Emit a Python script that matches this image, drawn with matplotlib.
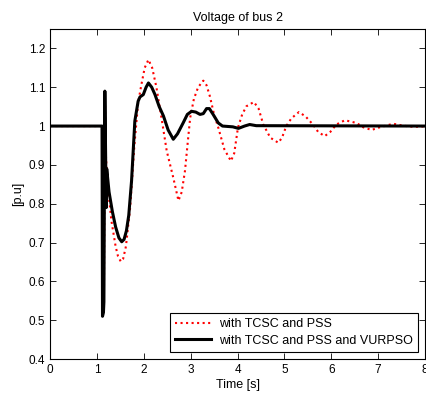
import numpy as np
import matplotlib
matplotlib.use('Agg')
import matplotlib.pyplot as plt
from matplotlib.ticker import FuncFormatter

# Values
t_pss = [0, 1.11, 1.12, 1.15, 1.17, 1.19, 1.22, 1.31, 1.40, 1.45, 1.51, 1.56, 1.62, 1.71, 1.80,
         1.88, 1.95, 2.02, 2.10, 2.18, 2.27, 2.38, 2.49, 2.63, 2.74, 2.81, 2.88,
         2.94, 2.99, 3.07, 3.16, 3.27, 3.34, 3.41, 3.50, 3.59, 3.72, 3.86, 3.93,
         4.01, 4.10, 4.19, 4.35, 4.45, 4.55, 4.70, 4.87, 4.95, 5.04, 5.15, 5.31,
         5.45, 5.61, 5.72, 5.86, 5.98, 6.11, 6.29, 6.54, 6.68, 6.86, 7.04, 7.32,
         7.53, 7.75, 8.0]
v_pss = [1.0, 1.0, 0.52, 0.55, 1.09, 0.93, 0.86, 0.756, 0.69, 0.665, 0.651, 0.658, 0.69, 0.79, 0.95,
         1.06, 1.107, 1.15, 1.171, 1.15, 1.10, 1.02, 0.936, 0.867, 0.808, 0.83, 0.885,
         0.96, 1.021, 1.07, 1.10, 1.117, 1.105, 1.077, 1.03, 0.996, 0.94, 0.910, 0.93,
         0.996, 1.03, 1.051, 1.062, 1.045, 1.004, 0.97, 0.957, 0.97, 1.0, 1.02, 1.036,
         1.025, 1.004, 0.985, 0.974, 0.985, 1.004, 1.015, 1.008, 0.997, 0.99, 0.997, 1.006,
         1.001, 0.998, 0.999]

t_vurpso = [0, 1.11, 1.12, 1.14, 1.15, 1.17, 1.20, 1.21, 1.26, 1.33, 1.40, 1.47, 1.53, 1.58,
            1.63, 1.68, 1.74, 1.81, 1.88, 1.92, 1.99, 2.05, 2.10, 2.17, 2.24, 2.33, 2.42,
            2.52, 2.63, 2.72, 2.84, 2.93, 3.02, 3.11, 3.20, 3.27, 3.34, 3.40, 3.48,
            3.59, 3.68, 3.90, 4.02, 4.15, 4.26, 4.40, 8.0]
v_vurpso = [1.0, 1.0, 0.51, 0.52, 0.547, 1.09, 0.79, 0.89, 0.83, 0.78, 0.74, 0.712, 0.702, 0.708,
            0.73, 0.77, 0.859, 1.013, 1.064, 1.075, 1.081, 1.10, 1.111, 1.10, 1.081, 1.05, 1.026,
            0.99, 0.966, 0.98, 1.008, 1.03, 1.038, 1.036, 1.030, 1.032, 1.045, 1.045, 1.03,
            1.008, 1.0, 0.998, 0.994, 1.0, 1.004, 1.001, 1.0]

labels = ['with TCSC and PSS', 'with TCSC and PSS and VURPSO']
x_ticks = list(range(0, 9))
y_ticks = [0.4, 0.5, 0.6, 0.7, 0.8, 0.9, 1.0, 1.1, 1.2]

plt.rcParams['font.family'] = ['Liberation Sans', 'DejaVu Sans']
plt.rcParams['font.size'] = 8.5

fig = plt.figure(figsize=(4.26, 3.94), dpi=100)
ax = fig.add_axes([50 / 426, 1 - 359 / 394, 375 / 426, 330 / 394])

ax.plot(t_pss, v_pss, color='red', linestyle=':', linewidth=1.5, label=labels[0])
ax.plot(t_vurpso, v_vurpso, color='black', linestyle='-', linewidth=2.2, label=labels[1])

ax.set_xlim(0, 8)
ax.set_ylim(0.4, 1.25)
ax.set_xticks(x_ticks)
ax.set_yticks(y_ticks)
ax.yaxis.set_major_formatter(FuncFormatter(lambda v, p: ('%g' % round(v, 2))))
ax.tick_params(direction='in', top=True, right=True, length=4, width=0.6, labelsize=8.5)
for s in ax.spines.values():
    s.set_linewidth(0.8)

ax.set_title('Voltage of bus 2', fontsize=9, pad=6)
ax.set_xlabel('Time [s]', fontsize=9, labelpad=2)
ax.set_ylabel('[p.u]', fontsize=9, labelpad=3)

leg = ax.legend(loc='lower right', fontsize=9, handlelength=2.9, fancybox=False,
                framealpha=1, edgecolor='black', borderaxespad=0.6,
                borderpad=0.4, labelspacing=0.35, handletextpad=0.6)
leg.get_frame().set_linewidth(0.8)

fig.savefig('out.png', dpi=100)
